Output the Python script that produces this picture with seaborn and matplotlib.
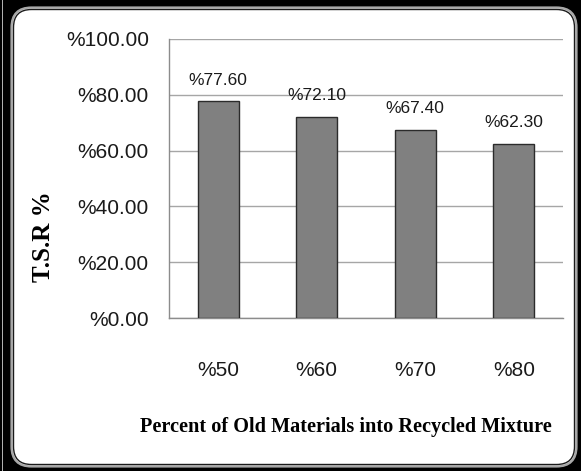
import matplotlib
matplotlib.use("Agg")
import matplotlib.pyplot as plt
import seaborn as sns
from matplotlib import font_manager
from matplotlib.patches import FancyBboxPatch, Rectangle
from matplotlib.transforms import IdentityTransform

# Data
categories = ["%50", "%60", "%70", "%80"]
tsr_values = [77.60, 72.10, 67.40, 62.30]
y_ticks = [0, 20, 40, 60, 80, 100]
y_tick_labels = [f"%{v:.2f}" for v in y_ticks]
x_title = "Percent of Old Materials into Recycled Mixture"
y_title = "T.S.R %"

sns.set_style("white")

installed = {f.name for f in font_manager.fontManager.ttflist}
if "Liberation Sans Narrow" in installed:
    sans = "Liberation Sans Narrow"
    tick_size, label_size = 18, 16
else:
    sans = "Liberation Sans"
    tick_size, label_size = 15, 12.5
serif = "Liberation Serif"

W, H = 581, 471
fig = plt.figure(figsize=(W / 100, H / 100), dpi=100, facecolor="black")

# white rounded panel with a double outline
panel = FancyBboxPatch((11.5, 4.5), 565, 459,
                       boxstyle="round,pad=0,rounding_size=20",
                       facecolor="white", edgecolor="#a8a8a8", linewidth=1.6,
                       transform=IdentityTransform(), zorder=-10)
fig.add_artist(panel)
inner = FancyBboxPatch((13.5, 6.5), 561, 455,
                       boxstyle="round,pad=0,rounding_size=18",
                       facecolor="none", edgecolor="#1a1a1a", linewidth=1.0,
                       transform=IdentityTransform(), zorder=-9)
fig.add_artist(inner)
fig.add_artist(Rectangle((2, 0), 1.4, H, facecolor="#b0b0b0", edgecolor="none",
                         transform=IdentityTransform(), zorder=-9))

ax = fig.add_axes([169 / W, 1 - 318 / H, (563 - 169) / W, (318 - 39) / H])
ax.set_facecolor("none")

sns.barplot(x=categories, y=tsr_values, color="#808080", saturation=1,
            width=0.42, edgecolor="#2b2b2b", linewidth=1.0, ax=ax, zorder=3)

ax.set_ylim(0, 100)
ax.set_xlim(-0.5, len(categories) - 0.5)
ax.set_yticks(y_ticks)
ax.set_yticklabels(y_tick_labels, fontfamily=sans, fontsize=tick_size)
ax.set_xticks(range(len(categories)))
ax.set_xticklabels(categories, fontfamily=sans, fontsize=tick_size)
ax.yaxis.grid(True, color="#a6a6a6", linewidth=1.0, zorder=0)
ax.set_axisbelow(True)

for side in ["top", "right"]:
    ax.spines[side].set_visible(False)
for side in ["left", "bottom"]:
    ax.spines[side].set_color("#8c8c8c")
    ax.spines[side].set_linewidth(1.0)

ax.tick_params(axis="y", length=4.5, width=1.0, color="#8c8c8c", pad=10, labelcolor="#1a1a1a")
ax.tick_params(axis="x", length=0, pad=31, labelcolor="#1a1a1a")
ax.set_xlabel("")
ax.set_ylabel("")

for i, v in enumerate(tsr_values):
    ax.annotate(f"%{v:.2f}", (i, v), xytext=(0, 10), textcoords="offset points",
                ha="center", va="bottom", fontfamily=sans, fontsize=label_size,
                color="#1a1a1a")

fig.text(346 / W, 1 - 427 / H, x_title, ha="center", va="center",
         fontfamily=serif, fontweight="bold", fontsize=14.6, color="black")
fig.text(43 / W, 1 - 237 / H, y_title, ha="center", va="center", rotation=90,
         fontfamily=serif, fontweight="bold", fontsize=18, color="black")

fig.savefig("out.png", dpi=100, facecolor=fig.get_facecolor())
